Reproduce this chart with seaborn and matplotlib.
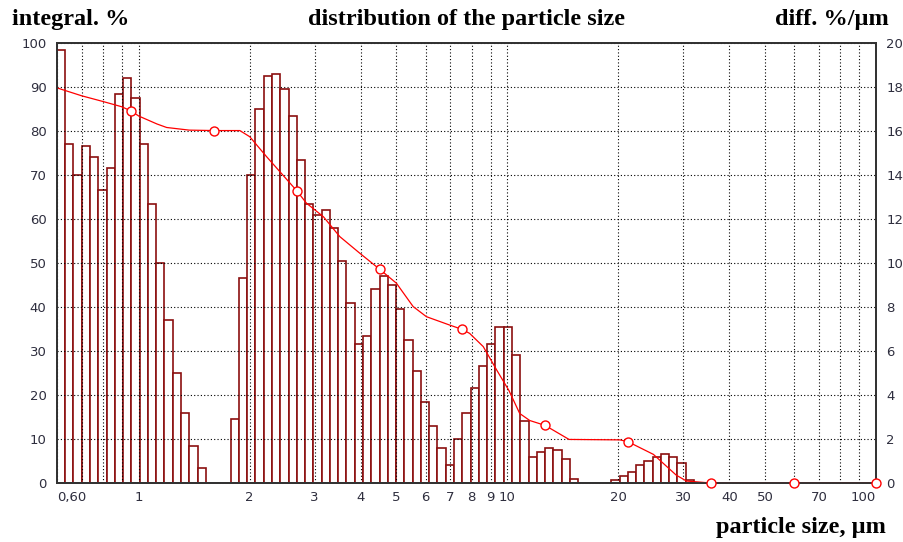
import numpy as np
import matplotlib
matplotlib.use("Agg")
import matplotlib.pyplot as plt
import seaborn as sns

# bin edges of the size classes (um)
bin_edges = [0.600, 0.632, 0.665, 0.701, 0.738, 0.777, 0.818, 0.861, 0.907, 0.955,
             1.006, 1.059, 1.115, 1.174, 1.237, 1.302, 1.371, 1.444, 1.520, 1.601,
             1.686, 1.775, 1.869, 1.968, 2.073, 2.183, 2.299, 2.420, 2.549, 2.684,
             2.827, 2.976, 3.134, 3.301, 3.476, 3.660, 3.854, 4.059, 4.274, 4.500,
             4.739, 4.990, 5.255, 5.534, 5.827, 6.136, 6.462, 6.804, 7.165, 7.545,
             7.947, 8.368, 8.812, 9.279, 9.771, 10.29, 10.84, 11.41, 12.02, 12.65,
             13.32, 14.03, 14.78, 15.56, 16.39, 17.26, 18.17, 19.13, 20.15, 21.22,
             22.34, 23.53, 24.78, 26.09, 27.47, 28.93, 30.47, 32.08]

# differential distribution, %/um (right axis)
diff_values = [19.7, 15.4, 14.0, 15.3, 14.8, 13.3, 14.3, 17.7, 18.4, 17.5,
               15.4, 12.7, 10.0, 7.4, 5.0, 3.2, 1.7, 0.7, 0.0, 0.0,
               0.0, 2.9, 9.3, 14.0, 17.0, 18.5, 18.6, 17.9, 16.7, 14.7,
               12.7, 12.2, 12.4, 11.6, 10.1, 8.2, 6.3, 6.7, 8.8, 9.4,
               9.0, 7.9, 6.5, 5.1, 3.7, 2.6, 1.6, 0.8, 2.0, 3.2,
               4.3, 5.3, 6.3, 7.1, 7.1, 5.8, 2.8, 1.2, 1.4, 1.6,
               1.5, 1.1, 0.2, 0.0, 0.0, 0.0, 0.0, 0.14, 0.3, 0.5,
               0.8, 1.0, 1.2, 1.3, 1.2, 0.9, 0.14]

# integral curve, % (left axis)
integ_size = [0.6, 0.70, 0.80, 0.90, 0.955, 1.0, 1.12, 1.19, 1.37, 1.60,
              1.88, 2.0, 2.22, 2.684, 2.85, 3.17, 3.51, 3.98, 4.50, 5.0,
              5.55, 6.03, 6.97, 7.545, 7.9, 8.6, 9.35, 10.1, 10.8, 11.5,
              12.65, 14.7, 20.2, 21.22, 24.9, 28.7, 30.6, 35.6, 59.8, 100.0]
integ_pct = [89.8, 88.0, 86.7, 85.5, 84.5, 83.4, 81.6, 80.8, 80.2, 80.1,
             80.1, 78.7, 74.2, 66.4, 63.6, 60.5, 56.0, 52.2, 48.6, 45.4,
             40.1, 37.8, 35.9, 34.9, 34.0, 31.0, 25.7, 21.0, 15.8, 14.2,
             13.1, 9.9, 9.8, 9.4, 6.5, 1.8, 0.45, 0.0, 0.0, 0.0]

# marked points on the integral curve
mark_size = [0.955, 1.601, 2.684, 4.500, 7.545, 12.65, 21.22, 35.6, 59.8, 100.0]
mark_pct = [84.5, 80.1, 66.4, 48.6, 34.9, 13.1, 9.4, 0.0, 0.0, 0.0]

xtick_pos = [0.6, 0.7, 0.8, 0.9, 1, 2, 3, 4, 5, 6, 7, 8, 9, 10,
             20, 30, 40, 50, 60, 70, 80, 90, 100]
xtick_lab = ['0,60', '', '', '', '1', '2', '3', '4', '5', '6', '7', '8', '9', '10',
             '20', '30', '40', '50', '', '70', '', '', '100']

sns.set_style("white")
plt.rcParams['font.family'] = ['DejaVu Sans']

W, H = 904, 542
fig = plt.figure(figsize=(W / 100, H / 100), dpi=100)
fig.patch.set_facecolor('white')
ax = fig.add_axes([57 / W, 1 - 483 / H, (876 - 57) / W, (483 - 43) / H])
ax2 = ax.twinx()

edges = np.array(bin_edges)
centres = np.sqrt(edges[:-1] * edges[1:])
sns.histplot(x=centres, weights=diff_values, bins=list(np.log10(edges)), log_scale=True,
             ax=ax2, color='white', edgecolor='#8b0f0f', linewidth=1.2,
             alpha=1, stat='count')

sns.lineplot(x=integ_size, y=integ_pct, ax=ax, color='#ff0000', linewidth=0.9)
sns.scatterplot(x=mark_size, y=mark_pct, ax=ax, marker='o', s=42,
                facecolor='white', edgecolor='#ff0000', linewidth=1.0,
                zorder=5, clip_on=False)

ax.set_zorder(ax2.get_zorder() + 1)
ax.patch.set_visible(False)
ax2.set_facecolor('white')

ax.set_xscale('log')
ax.set_xlim(0.6, 100)
ax.set_ylim(0, 100)
ax2.set_ylim(0, 20)

ax.xaxis.set_major_locator(matplotlib.ticker.FixedLocator(xtick_pos))
ax.xaxis.set_major_formatter(matplotlib.ticker.FixedFormatter(xtick_lab))
ax.xaxis.set_minor_locator(matplotlib.ticker.NullLocator())
ax.set_yticks(np.arange(0, 101, 10))
ax2.set_yticks(np.arange(0, 21, 2))

lab_col = '#2e2e3e'
ax.tick_params(axis='both', length=0, labelsize=9.5, labelcolor=lab_col)
ax.tick_params(axis='y', pad=7.5)
ax.tick_params(axis='x', pad=6)
ax2.tick_params(axis='y', length=0, labelsize=9.5, labelcolor=lab_col, pad=7.5)
for lbl in ax.get_xticklabels():
    if lbl.get_text() == '0,60':
        lbl.set_ha('left')
    if lbl.get_text() == '100':
        lbl.set_ha('right')

ax.grid(True, axis='both', color='black', linestyle=(0, (1, 2)), linewidth=0.8)
ax2.grid(False)
ax.set_xlabel('')
ax.set_ylabel('')
ax2.set_ylabel('')

for a in (ax, ax2):
    for side in ['left', 'right', 'top', 'bottom']:
        a.spines[side].set_color('#333333')
        a.spines[side].set_linewidth(1.3)
        a.spines[side].set_visible(True)

title_font = dict(family='Liberation Serif', weight='bold', size=17.5, color='black')
fig.text(12 / W, 1 - 20 / H, 'integral. %', ha='left', va='center', **title_font)
fig.text(467 / W, 1 - 20 / H, 'distribution of the particle size', ha='center', va='center', **title_font)
fig.text(889 / W, 1 - 20 / H, 'diff. %/\u00b5m', ha='right', va='center', **title_font)
fig.text(886 / W, 1 - 527 / H, 'particle size, \u00b5m', ha='right', va='center', **title_font)

fig.savefig('out.png', dpi=100)
